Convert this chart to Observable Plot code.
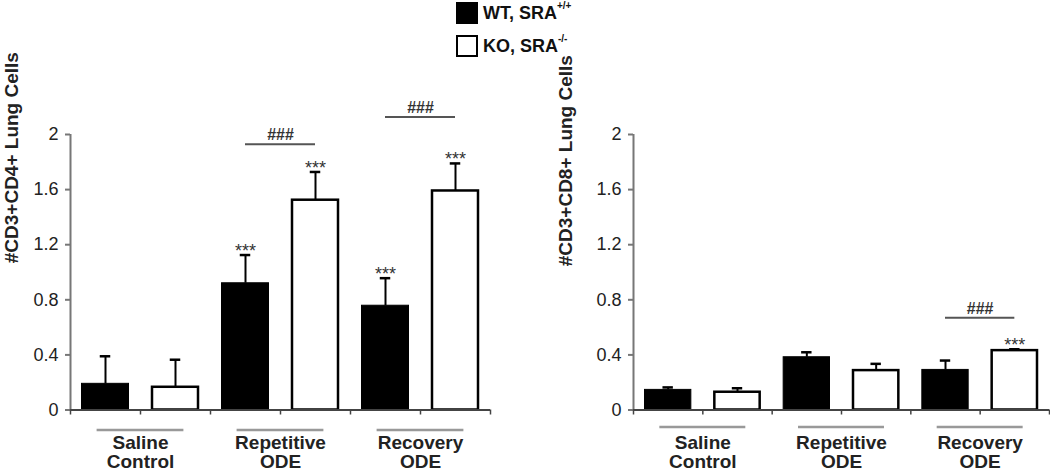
<!DOCTYPE html>
<html>
<head>
<meta charset="utf-8">
<script src="https://cdn.jsdelivr.net/npm/d3@7"></script>
<script src="https://cdn.jsdelivr.net/npm/@observablehq/plot@0.6"></script>
<style>
  body { margin: 0; background: #fff; font-family: "Liberation Sans", Arial, sans-serif; }
  #wrap { position: relative; width: 1050px; height: 474px; overflow: hidden; }
  .panel { position: absolute; top: 80px; }
  .panel svg { max-width: none !important; }
  #legend { position: absolute; left: 456px; top: 2px; font-weight: bold; font-size: 18px; color: #111; }
  .lrow { display: flex; align-items: center; height: 22px; margin-bottom: 11px; }
  .sw { width: 18px; height: 18px; border: 2px solid #000; margin-right: 5px; box-sizing: content-box; }
  .lrow sup { font-size: 10px; position: relative; top: -3px; }
</style>
</head>
<body>
<div id="wrap">
  <div id="legend">
    <div class="lrow"><div class="sw" style="background:#000"></div><span>WT, SRA<sup>+/+</sup></span></div>
    <div class="lrow"><div class="sw" style="background:#fff"></div><span>KO, SRA<sup>-/-</sup></span></div>
  </div>
  <div id="left" class="panel" style="left:0px"></div>
  <div id="right" class="panel" style="left:520px"></div>
</div>
<script>
// ---- data ----
const groups = ["Saline\nControl", "Repetitive\nODE", "Recovery\nODE"];
const genotypes = ["WT", "KO"];
const yTicks = [0, 0.4, 0.8, 1.2, 1.6, 2];
const slotTicks = [0, 1, 2, 3, 4, 5, 6];

const cd4Label = "#CD3+CD4+ Lung Cells";
const cd4WT = [0.19, 0.92, 0.757];
const cd4WTErr = [0.20, 0.205, 0.20];
const cd4KO = [0.165, 1.523, 1.59];
const cd4KOErr = [0.20, 0.205, 0.20];
const cd4WTStars = ["", "***", "***"];
const cd4KOStars = ["", "***", "***"];
const cd4Hash = ["", "###", "###"];
const cd4HashLevel = [null, 1.93, 2.127];

const cd8Label = "#CD3+CD8+ Lung Cells";
const cd8WT = [0.146, 0.383, 0.291];
const cd8WTErr = [0.018, 0.036, 0.068];
const cd8KO = [0.129, 0.286, 0.431];
const cd8KOErr = [0.029, 0.049, 0.01];
const cd8WTStars = ["", "", ""];
const cd8KOStars = ["", "", "***"];
const cd8Hash = ["", "", "###"];
const cd8HashLevel = [null, null, 0.67];

function rowsFor(wt, wtErr, ko, koErr, wtStars, koStars) {
  const rows = [];
  groups.forEach((g, i) => {
    rows.push({group: g, geno: genotypes[0], slot: i * 2, value: wt[i], err: wtErr[i], star: wtStars[i]});
    rows.push({group: g, geno: genotypes[1], slot: i * 2 + 1, value: ko[i], err: koErr[i], star: koStars[i]});
  });
  return rows;
}

function panel(opts) {
  const {rows, label, hash, hashLevel, marginLeft, marginRight, width, labelDx, labelDy, catLineDy} = opts;
  const grp = groups.map((g, i) => ({name: g, idx: i, hash: hash[i], level: hashLevel[i]}));
  const cmp = grp.filter(d => d.hash);
  const capHalf = 0.075;
  return Plot.plot({
    width,
    height: 394,
    marginLeft,
    marginRight,
    marginTop: 54,
    marginBottom: 64.5,
    style: {fontFamily: '"Liberation Sans", Arial, sans-serif', fontSize: "18px", color: "#222", background: "transparent", overflow: "visible"},
    x: {domain: [0, 6]},
    y: {domain: [0, 2]},
    marks: [
      // bars
      Plot.rectY(rows.filter(d => d.geno === "WT"), {x1: "slot", x2: d => d.slot + 1, y: "value", insetLeft: 11.5, insetRight: 11.5, fill: "#000", stroke: "#000", strokeWidth: 1}),
      Plot.rectY(rows.filter(d => d.geno === "KO"), {x1: "slot", x2: d => d.slot + 1, y: "value", insetLeft: 12, insetRight: 12, fill: "#fff", stroke: "#000", strokeWidth: 2.5}),
      // error bars
      Plot.ruleX(rows, {x: d => d.slot + 0.5, y1: "value", y2: d => d.value + d.err, stroke: "#000", strokeWidth: 2}),
      Plot.ruleY(rows, {y: d => d.value + d.err, x1: d => d.slot + 0.5 - capHalf, x2: d => d.slot + 0.5 + capHalf, stroke: "#000", strokeWidth: 2.5}),
      // stars
      Plot.text(rows.filter(d => d.star), {x: d => d.slot + 0.5, y: d => d.value + d.err, text: "star", dy: -4, lineAnchor: "middle", fontSize: 18, fill: "#333"}),
      // comparison brackets
      Plot.ruleY(cmp, {y: "level", x1: d => d.idx * 2 + 0.5, x2: d => d.idx * 2 + 1.5, stroke: "#555", strokeWidth: 2}),
      Plot.text(cmp, {x: d => d.idx * 2 + 1, y: "level", text: "hash", dy: -4, lineAnchor: "bottom", fontSize: 16, fontWeight: "bold", fill: "#333"}),
      // axes
      Plot.ruleX([0], {y1: 0, y2: 2, stroke: "#777", strokeWidth: 2}),
      Plot.ruleY([0], {x1: 0, x2: 6, stroke: "#444", strokeWidth: 2}),
      Plot.axisY({ticks: yTicks, tickFormat: d => String(+d.toFixed(1)), tickSize: 5, tickPadding: 7, stroke: "#777", strokeWidth: 2, fontSize: 18, fill: "#222", label: null}),
      Plot.axisX({ticks: slotTicks, tickFormat: () => "", tickSize: 5, stroke: "#444", strokeWidth: 1.5, label: null}),
      // y label
      Plot.text([label], {frameAnchor: "left", dx: labelDx, dy: labelDy, rotate: -90, fontWeight: "bold", fontSize: 19, fill: "#222"}),
      // category lines + labels
      Plot.ruleY(grp, {y: 0, x1: d => d.idx * 2 + 1 - 0.62, x2: d => d.idx * 2 + 1 + 0.62, dy: catLineDy, stroke: "#999", strokeWidth: 2.5}),
      Plot.text(grp, {x: d => d.idx * 2 + 1, frameAnchor: "bottom", text: "name", dy: 25, lineAnchor: "top", lineHeight: 1.02, fontWeight: "bold", fontSize: 19, fill: "#222"})
    ]
  });
}

document.getElementById("left").appendChild(panel({
  rows: rowsFor(cd4WT, cd4WTErr, cd4KO, cd4KOErr, cd4WTStars, cd4KOStars),
  label: cd4Label, hash: cd4Hash, hashLevel: cd4HashLevel,
  marginLeft: 70, marginRight: 20, width: 510, labelDx: -59, labelDy: -9, catLineDy: 20
}));
document.getElementById("right").appendChild(panel({
  rows: rowsFor(cd8WT, cd8WTErr, cd8KO, cd8KOErr, cd8WTStars, cd8KOStars),
  label: cd8Label, hash: cd8Hash, hashLevel: cd8HashLevel,
  marginLeft: 113, marginRight: 1, width: 530, labelDx: -68, labelDy: -6, catLineDy: 17
}));
</script>
</body>
</html>
